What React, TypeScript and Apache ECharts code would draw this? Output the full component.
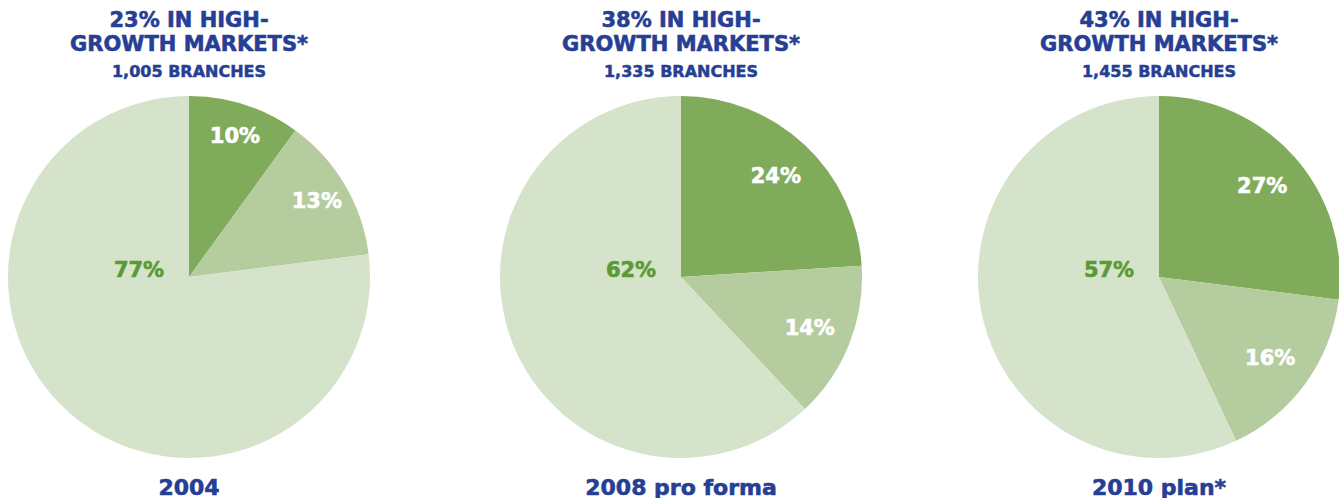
import React, { useEffect, useRef } from "react";
import * as echarts from "echarts";

const years = ["2004", "2008 pro forma", "2010 plan*"];
const headlines = [
  "23% IN HIGH-\nGROWTH MARKETS*",
  "38% IN HIGH-\nGROWTH MARKETS*",
  "43% IN HIGH-\nGROWTH MARKETS*",
];
const branches = ["1,005 BRANCHES", "1,335 BRANCHES", "1,455 BRANCHES"];
const segmentNames = ["High-growth segment 1", "High-growth segment 2", "Other markets"];
const share2004 = [10, 13, 77];
const share2008 = [24, 14, 62];
const share2010 = [27, 16, 57];
const shares = [share2004, share2008, share2010];

const BLUE = "#263f94";
const COLORS = ["#7fab5a", "#b4cc9e", "#d5e3cb"];
const BIG_LABEL = "#5a9a36";
const FONT = "DejaVu Sans";

const centersX = [189, 681, 1159];
const CY = 277;
const R = 181;
const labelInner = [110, 90, 88];

export default function App() {
  const ref = useRef<HTMLDivElement>(null);
  useEffect(() => {
    if (!ref.current) return;
    const chart = echarts.init(ref.current, undefined, { renderer: "svg" });
    const titles: any[] = [];
    const series: any[] = [];
    shares.forEach((vals, i) => {
      titles.push({
        text: headlines[i],
        subtext: branches[i],
        left: centersX[i],
        top: 8,
        textAlign: "center",
        padding: 0,
        itemGap: 5,
        textStyle: {
          fontFamily: FONT, fontWeight: "bold", fontSize: 21, lineHeight: 24, color: BLUE,
          textBorderColor: BLUE, textBorderWidth: 0.6,
        },
        subtextStyle: {
          fontFamily: FONT, fontWeight: "bold", fontSize: 16, lineHeight: 20, color: BLUE,
          textBorderColor: BLUE, textBorderWidth: 0.5,
        },
      });
      titles.push({
        text: years[i],
        left: centersX[i],
        top: 476,
        textAlign: "center",
        padding: 0,
        textStyle: {
          fontFamily: FONT, fontWeight: "bold", fontSize: 22, lineHeight: 22, color: BLUE,
          textBorderColor: BLUE, textBorderWidth: 0.6,
        },
      });
      series.push({
        type: "pie",
        center: [centersX[i], CY],
        radius: [0, R],
        startAngle: 90,
        clockwise: true,
        silent: true,
        labelLine: { show: false },
        label: { show: false },
        itemStyle: { borderWidth: 0 },
        labelLayout: (p: any) => (p.dataIndex === 2 ? { dx: -50, dy: -7 } : {}),
        data: vals.map((v, k) => ({
          name: segmentNames[k],
          value: v,
          itemStyle: { color: COLORS[k] },
          label:
            k === 2
              ? {
                  show: true,
                  position: "center",
                  formatter: "{c}%",
                  color: BIG_LABEL,
                  fontFamily: FONT,
                  fontWeight: "bold",
                  fontSize: 21,
                  textBorderColor: BIG_LABEL,
                  textBorderWidth: 0.6,
                }
              : { show: false },
        })),
      });
      series.push({
        type: "pie",
        center: [centersX[i], CY],
        radius: [labelInner[i], R],
        startAngle: 90,
        clockwise: true,
        silent: true,
        labelLine: { show: false },
        itemStyle: { color: "rgba(0,0,0,0)", borderWidth: 0 },
        label: {
          show: true,
          position: "inside",
          formatter: "{c}%",
          color: "#ffffff",
          fontFamily: FONT,
          fontWeight: "bold",
          fontSize: 21,
          textBorderColor: "#ffffff",
          textBorderWidth: 0.6,
        },
        data: vals.map((v, k) => ({
          name: segmentNames[k],
          value: v,
          label: k === 2 ? { show: false } : undefined,
        })),
      });
    });
    chart.setOption({
      animation: false,
      backgroundColor: "#ffffff",
      title: titles,
      tooltip: { show: false },
      series,
    });
    return () => chart.dispose();
  }, []);
  return (
    <div
      ref={ref}
      style={{ position: "absolute", left: 0, top: 0, width: 1339, height: 498 }}
    />
  );
}
